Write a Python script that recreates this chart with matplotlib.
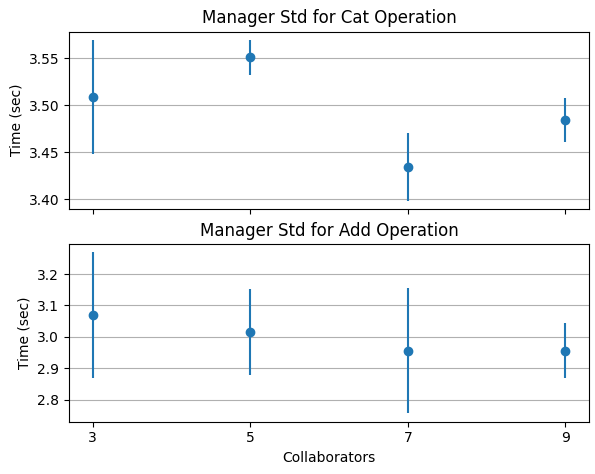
import matplotlib
matplotlib.use("Agg")
import matplotlib.pyplot as plt

collaborators = [3, 5, 7, 9]
cat_mean = [3.509, 3.551, 3.434, 3.484]
cat_err = [0.061, 0.019, 0.036, 0.0235]
add_mean = [3.070, 3.016, 2.956, 2.956]
add_err = [0.200, 0.136, 0.200, 0.087]
xticks = [3, 5, 7, 9]

fig = plt.figure(figsize=(5.95, 4.74), dpi=100)
W, H = 595, 474
ax1 = fig.add_axes([69 / W, 1 - 209 / H, 520 / W, 177.5 / H])
ax2 = fig.add_axes([69 / W, 1 - 421.5 / H, 520 / W, 177.5 / H], sharex=ax1)

ax1.errorbar(collaborators, cat_mean, yerr=cat_err, fmt='o', color='#1f77b4')
ax1.set_title("Manager Std for Cat Operation")
ax1.set_ylabel("Time (sec)")
ax1.grid(axis='y')
ax1.set_yticks([3.40, 3.45, 3.50, 3.55])
ax1.tick_params(labelbottom=False)

ax2.errorbar(collaborators, add_mean, yerr=add_err, fmt='o', color='#1f77b4')
ax2.set_title("Manager Std for Add Operation")
ax2.set_ylabel("Time (sec)")
ax2.set_xlabel("Collaborators")
ax2.grid(axis='y')
ax2.set_yticks([2.8, 2.9, 3.0, 3.1, 3.2])
ax2.set_xticks(xticks)

fig.savefig("out.png", dpi=100)
